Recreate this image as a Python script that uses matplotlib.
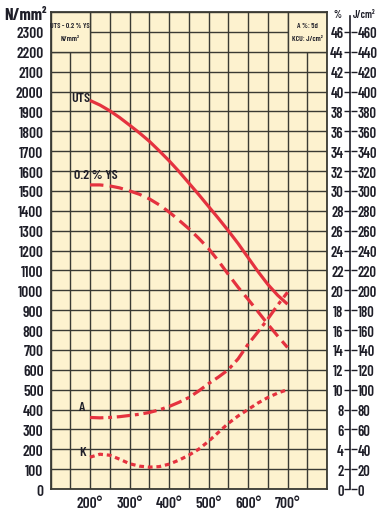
import numpy as np
import matplotlib.pyplot as plt
from matplotlib.patches import Rectangle

# temperatura di rinvenimento (gradi C)
temps = [200, 225, 250, 275, 300, 325, 350, 375, 400, 425, 450,
         475, 500, 525, 550, 575, 600, 625, 650, 675, 700]
# N/mm2
uts = [1955, 1932, 1903, 1869, 1831, 1792, 1750, 1702, 1652, 1598, 1540,
       1482, 1422, 1362, 1300, 1235, 1165, 1095, 1030, 975, 930]
ys = [1530, 1530, 1525, 1515, 1500, 1483, 1460, 1430, 1394, 1353, 1310,
      1262, 1210, 1148, 1080, 1015, 955, 893, 830, 770, 712]
# A %
a_pct = [7.2, 7.16, 7.2, 7.28, 7.4, 7.52, 7.7, 7.96, 8.3, 8.72, 9.2,
         9.86, 10.6, 11.26, 12.0, 13.1, 14.56, 15.8, 17.1, 18.5, 19.8]
# KCU J/cm2
k_kcu = [32, 35, 34, 30, 25.5, 23, 22, 22.5, 25, 29, 34,
         40, 48, 57, 66, 73.5, 80, 86.5, 92, 96.5, 100]

x_ticks = [200, 300, 400, 500, 600, 700]

bg = '#fdf2cf'
grid_col = '#3a3a33'
red = '#e5323f'
txt = '#1e1e28'

plt.rcParams['font.family'] = ['Barlow Condensed', 'Oswald', 'Roboto Condensed',
                               'Archivo Narrow', 'PT Sans Narrow', 'DejaVu Sans']
plt.rcParams['font.weight'] = 'semibold'

fig = plt.figure(figsize=(3.78, 5.10), dpi=100)
ax = fig.add_axes([0.1336, 0.0392, 0.7315, 0.9353])
ax.set_facecolor(bg)
ax.set_xlim(100, 800)
ax.set_ylim(0, 2400)
ax.set_xticks(np.arange(100, 801, 50))
ax.set_yticks(np.arange(0, 2401, 100))
ax.grid(True, color=grid_col, linewidth=1.0)
ax.set_axisbelow(True)
ax.tick_params(length=0, labelsize=11, colors=txt, pad=5)
ax.set_xticklabels([f'{t}°' if t in x_ticks else '' for t in range(100, 801, 50)])
ax.set_yticklabels([str(v) if v <= 2300 else '' for v in range(0, 2401, 100)])
for s in ax.spines.values():
    s.set_color(grid_col)
    s.set_linewidth(1.3)

# riquadri legenda in alto
for x0 in (100, 700):
    ax.add_patch(Rectangle((x0, 2200), 100, 200, facecolor=bg, edgecolor=grid_col,
                           linewidth=1.0, zorder=1.5))
ax.text(150, 2335, 'UTS - 0.2 % YS', ha='center', va='center', fontsize=5.5, color=txt, zorder=3)
ax.text(150, 2268, 'N/mm²', ha='center', va='center', fontsize=5.5, color=txt, zorder=3)
ax.text(750, 2335, 'A %: 5d', ha='center', va='center', fontsize=5.5, color=txt, zorder=3)
ax.text(750, 2268, 'KCU: J/cm²', ha='center', va='center', fontsize=5.5, color=txt, zorder=3)

# curve
a_n = [v * 50 for v in a_pct]
k_n = [v * 5 for v in k_kcu]
ax.plot(temps, uts, color=red, linewidth=2.3, solid_capstyle='butt', zorder=4)
ax.plot(temps, ys, color=red, linewidth=2.3, dashes=(4.2, 2.0), zorder=4)
ax.plot(temps, a_n, color=red, linewidth=2.3, dashes=(4.2, 1.5, 1.2, 1.5), zorder=4)
ax.plot(temps, k_n, color=red, linewidth=2.3, dashes=(1.5, 1.2), zorder=4)

ax.text(201, 1968, 'UTS', ha='right', va='center', fontsize=10, color=txt, zorder=5)
ax.text(215, 1580, '0.2 % YS', ha='center', va='center', fontsize=10, color=txt, zorder=5)
ax.text(180, 412, 'A', ha='center', va='center', fontsize=10, color=txt, zorder=5)
ax.text(180, 185, 'K', ha='center', va='center', fontsize=10, color=txt, zorder=5)

# asse destro: % a sinistra, J/cm2 a destra
axp = fig.add_axes([0.9272, 0.0392, 0.0001, 0.9353])
axp.set_ylim(0, 48)
axp.set_xticks([])
axp.set_yticks(np.arange(0, 47, 2))
axp.tick_params(axis='y', direction='out', length=4, width=1, colors=txt, labelsize=10.5, pad=1)
for s in ('top', 'bottom', 'right'):
    axp.spines[s].set_visible(False)
axp.spines['left'].set_color(txt)
axp.spines['left'].set_linewidth(1.2)
axp.spines['left'].set_bounds(0, 47.6)
axp.yaxis.get_major_ticks()[0].tick1line.set_visible(False)

axj = axp.twinx()
axj.set_ylim(0, 480)
axj.set_yticks(np.arange(0, 461, 20))
axj.tick_params(axis='y', direction='out', length=4, width=1, colors=txt, labelsize=10.5, pad=1)
for s in axj.spines.values():
    s.set_visible(False)

fig.text(338 / 378, 1 - 15 / 510, '%', ha='center', va='center', fontsize=7.5, color=txt)
fig.text(364 / 378, 1 - 15 / 510, 'J/cm²', ha='center', va='center', fontsize=7.5, color=txt)
fig.text(25 / 378, 1 - 16 / 510, 'N/mm²', ha='center', va='center', fontsize=12,
         weight='bold', color=txt)

fig.savefig('out.png', dpi=100, facecolor='white')
